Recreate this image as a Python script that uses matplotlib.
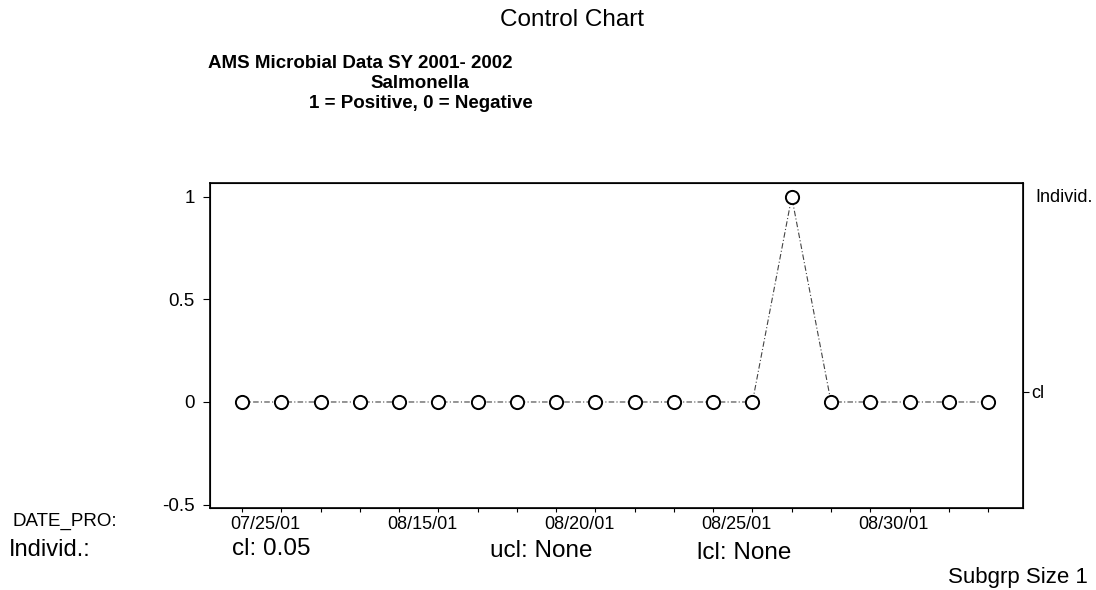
import matplotlib
matplotlib.use('Agg')
import matplotlib.pyplot as plt
import matplotlib.transforms as mtransforms
import numpy as np

plt.rcParams['font.family'] = ['Liberation Sans', 'DejaVu Sans']

# samples (individual results, 1 = positive, 0 = negative)
sample_no = np.arange(20)
results = [0, 0, 0, 0, 0, 0, 0, 0, 0, 0, 0, 0, 0, 0, 1, 0, 0, 0, 0, 0]
date_labels = ['07/25/01', '08/15/01', '08/20/01', '08/25/01', '08/30/01']
label_at = [0, 4, 8, 12, 16]
y_ticks = [-0.5, 0, 0.5, 1]
y_ticklabels = ['-0.5', '0', '0.5', '1']
cl = 0.05

W, H = 1096, 590
fig = plt.figure(figsize=(W / 100, H / 100), dpi=100)
ax = fig.add_axes([210 / W, 1 - 508 / H, (1023 - 210) / W, (508 - 183) / H])

ax.plot(sample_no, results, color='#444444', lw=0.8, ls=(0, (5, 2, 1, 2)),
        marker='o', ms=9.5, mfc='white', mec='black', mew=1.4)

ax.set_xlim(-0.815, 19.89)
ax.set_ylim(-0.517, 1.068)

ax.set_yticks(y_ticks)
ax.set_yticklabels(y_ticklabels, fontsize=13.5)
ax.tick_params(axis='y', length=5, width=0.8, pad=6)

ax.set_xticks(sample_no)
xl = [''] * len(sample_no)
for i, lab in zip(label_at, date_labels):
    xl[i] = lab
ax.set_xticklabels(xl, fontsize=13, ha='left')
ax.tick_params(axis='x', length=3, width=0.8, pad=3)
shift = mtransforms.ScaledTranslation(-12 / 100, 0, fig.dpi_scale_trans)
for t in ax.get_xticklabels():
    t.set_transform(t.get_transform() + shift)

for s in ax.spines.values():
    s.set_linewidth(1.2)

# right side: center line marker
ax_r = ax.twinx()
ax_r.set_ylim(ax.get_ylim())
ax_r.set_yticks([cl])
ax_r.set_yticklabels(['cl'], fontsize=13)
ax_r.tick_params(axis='y', length=4, width=0.8, pad=2)

# titles
fig.text(572 / W, 1 - 20 / H, 'Control Chart', fontsize=17.5, ha='center', va='center')
fig.text(360 / W, 1 - 63 / H, 'AMS Microbial Data SY 2001- 2002', fontsize=13.5,
         fontweight='bold', ha='center', va='center')
fig.text(420 / W, 1 - 84 / H, 'Salmonella', fontsize=13.5, fontweight='bold', ha='center', va='center')
fig.text(421 / W, 1 - 104 / H, '1 = Positive, 0 = Negative', fontsize=13.5,
         fontweight='bold', ha='center', va='center')

fig.text(1035 / W, 1 - 197 / H, 'Individ.', fontsize=13, ha='left', va='center')

# footer
fig.text(13 / W, 1 - 521 / H, 'DATE_PRO:', fontsize=13.5, ha='left', va='center')
fig.text(9 / W, 1 - 550 / H, 'Individ.:', fontsize=17, ha='left', va='center')
fig.text(232 / W, 1 - 549 / H, 'cl: 0.05', fontsize=17.5, ha='left', va='center')
fig.text(490 / W, 1 - 551 / H, 'ucl: None', fontsize=17.5, ha='left', va='center')
fig.text(697 / W, 1 - 553 / H, 'lcl: None', fontsize=17.5, ha='left', va='center')
fig.text(948 / W, 1 - 578 / H, 'Subgrp Size 1', fontsize=16, ha='left', va='center')

fig.savefig('out.png', dpi=100)
